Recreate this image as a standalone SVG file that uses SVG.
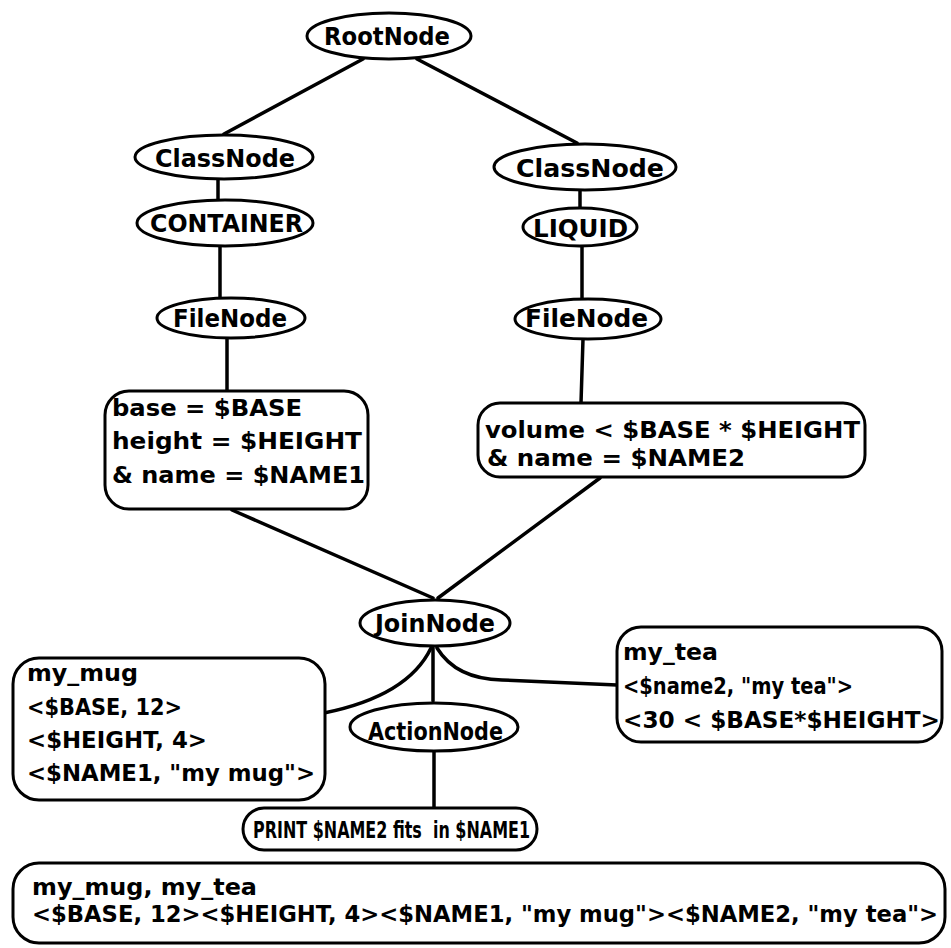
<svg xmlns="http://www.w3.org/2000/svg" width="951" height="948" viewBox="0 0 951 948">
  <style>
    .bg { fill: #ffffff; }
    .shape { fill: #ffffff; stroke: #000000; stroke-width: 3; }
    .edge { fill: none; stroke: #000000; stroke-width: 3.5; stroke-linecap: round; }
    .lbl { font-family: "DejaVu Sans", "Liberation Sans", sans-serif; font-weight: bold; font-size: 25px; fill: #000000; }
    .txt { font-family: "DejaVu Sans", "Liberation Sans", sans-serif; font-weight: bold; font-size: 23px; fill: #000000; }
  </style>
  <rect class="bg" x="0" y="0" width="951" height="948"/>

  <g id="connectors">
    <line class="edge" x1="363" y1="59" x2="224" y2="134"/>
    <line class="edge" x1="417" y1="59" x2="577" y2="143"/>
    <line class="edge" x1="218" y1="179" x2="218" y2="200"/>
    <line class="edge" x1="220" y1="246" x2="220" y2="298"/>
    <line class="edge" x1="227" y1="338" x2="227" y2="391"/>
    <line class="edge" x1="580" y1="190" x2="580" y2="208"/>
    <line class="edge" x1="582" y1="246" x2="582" y2="299"/>
    <line class="edge" x1="583" y1="339" x2="581" y2="403"/>
    <line class="edge" x1="232" y1="510" x2="433" y2="598"/>
    <line class="edge" x1="600" y1="478" x2="438" y2="598"/>
    <path class="edge" d="M 431 648 Q 408 696 324 713"/>
    <line class="edge" x1="433" y1="648" x2="433" y2="701"/>
    <path class="edge" d="M 437 648 Q 456 679 502 680 L 617 685"/>
    <line class="edge" x1="434" y1="751" x2="434" y2="808"/>
  </g>

  <g id="root-node">
    <ellipse class="shape" cx="389" cy="36" rx="82" ry="23"/>
    <text class="lbl" x="324" y="45" textLength="126" lengthAdjust="spacingAndGlyphs">RootNode</text>
  </g>

  <g id="class-node-container">
    <ellipse class="shape" cx="224" cy="157" rx="89" ry="22"/>
    <text class="lbl" x="155" y="167" textLength="140" lengthAdjust="spacingAndGlyphs">ClassNode</text>
  </g>

  <g id="container-node">
    <ellipse class="shape" cx="225" cy="223" rx="88" ry="23"/>
    <text class="lbl" x="150" y="232" textLength="153" lengthAdjust="spacingAndGlyphs">CONTAINER</text>
  </g>

  <g id="file-node-container">
    <ellipse class="shape" cx="231" cy="318" rx="74" ry="20"/>
    <text class="lbl" x="173" y="327" textLength="114" lengthAdjust="spacingAndGlyphs">FileNode</text>
  </g>

  <g id="container-query">
    <rect class="shape" x="105" y="391" width="263" height="118" rx="24" ry="24"/>
    <text class="txt" x="112" y="416" textLength="190" lengthAdjust="spacingAndGlyphs">base = $BASE</text>
    <text class="txt" x="112" y="449" textLength="250" lengthAdjust="spacingAndGlyphs">height = $HEIGHT</text>
    <text class="txt" x="112" y="483" textLength="253" lengthAdjust="spacingAndGlyphs">&amp; name = $NAME1</text>
  </g>

  <g id="class-node-liquid">
    <ellipse class="shape" cx="585" cy="167" rx="91" ry="23"/>
    <text class="lbl" x="516" y="177" textLength="148" lengthAdjust="spacingAndGlyphs">ClassNode</text>
  </g>

  <g id="liquid-node">
    <ellipse class="shape" cx="580" cy="227" rx="57" ry="19"/>
    <text class="lbl" x="533" y="237" textLength="95" lengthAdjust="spacingAndGlyphs">LIQUID</text>
  </g>

  <g id="file-node-liquid">
    <ellipse class="shape" cx="588" cy="319" rx="73" ry="20"/>
    <text class="lbl" x="525" y="327" textLength="123" lengthAdjust="spacingAndGlyphs">FileNode</text>
  </g>

  <g id="liquid-query">
    <rect class="shape" x="478" y="403" width="387" height="74" rx="22" ry="22"/>
    <text class="txt" x="485" y="438" textLength="375" lengthAdjust="spacingAndGlyphs">volume &lt; $BASE * $HEIGHT</text>
    <text class="txt" x="487" y="466" textLength="258" lengthAdjust="spacingAndGlyphs">&amp; name = $NAME2</text>
  </g>

  <g id="join-node">
    <ellipse class="shape" cx="435" cy="623" rx="75" ry="23"/>
    <text class="lbl" x="375" y="632" textLength="120" lengthAdjust="spacingAndGlyphs">JoinNode</text>
  </g>

  <g id="mug-token">
    <rect class="shape" x="13" y="658" width="312" height="142" rx="26" ry="26"/>
    <text class="txt" x="27" y="681" textLength="111" lengthAdjust="spacingAndGlyphs">my_mug</text>
    <text class="txt" x="27" y="715" textLength="155" lengthAdjust="spacingAndGlyphs">&lt;$BASE, 12&gt;</text>
    <text class="txt" x="27" y="748" textLength="180" lengthAdjust="spacingAndGlyphs">&lt;$HEIGHT, 4&gt;</text>
    <text class="txt" x="27" y="781" textLength="288" lengthAdjust="spacingAndGlyphs">&lt;$NAME1, "my mug"&gt;</text>
  </g>

  <g id="tea-token">
    <rect class="shape" x="617" y="627" width="325" height="115" rx="24" ry="24"/>
    <text class="txt" x="623" y="660" textLength="95" lengthAdjust="spacingAndGlyphs">my_tea</text>
    <text class="txt" x="623" y="694" textLength="230" lengthAdjust="spacingAndGlyphs">&lt;$name2, "my tea"&gt;</text>
    <text class="txt" x="623" y="728" textLength="317" lengthAdjust="spacingAndGlyphs">&lt;30 &lt; $BASE*$HEIGHT&gt;</text>
  </g>

  <g id="action-node">
    <ellipse class="shape" cx="434" cy="727" rx="84" ry="24"/>
    <text class="lbl" x="368" y="740" textLength="135" lengthAdjust="spacingAndGlyphs">ActionNode</text>
  </g>

  <g id="print-action">
    <rect class="shape" x="243" y="808" width="294" height="42" rx="21" ry="21"/>
    <text class="txt" x="253" y="838" textLength="277" lengthAdjust="spacingAndGlyphs" xml:space="preserve">PRINT $NAME2 fits  in $NAME1</text>
  </g>

  <g id="joined-token">
    <rect class="shape" x="13" y="863" width="932" height="80" rx="26" ry="26"/>
    <text class="txt" x="32" y="895" textLength="225" lengthAdjust="spacingAndGlyphs">my_mug, my_tea</text>
    <text class="txt" x="32" y="922" textLength="906" lengthAdjust="spacingAndGlyphs">&lt;$BASE, 12&gt;&lt;$HEIGHT, 4&gt;&lt;$NAME1, "my mug"&gt;&lt;$NAME2, "my tea"&gt;</text>
  </g>
</svg>
